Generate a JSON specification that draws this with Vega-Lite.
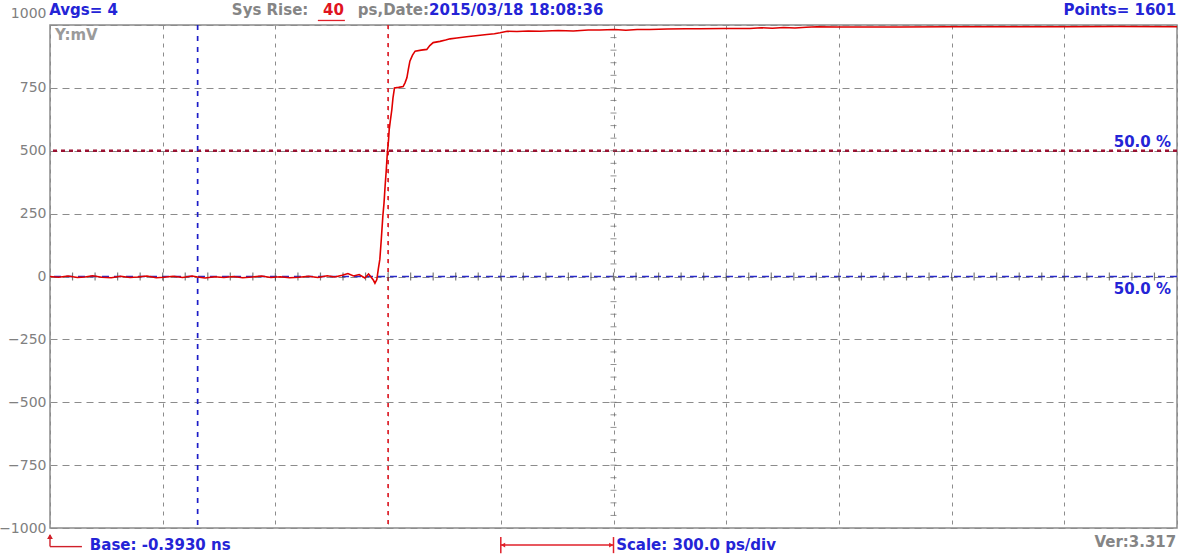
{
  "$schema": "https://vega.github.io/schema/vega-lite/v6.json",
  "width": 1127,
  "height": 503,
  "autosize": {"type": "none"},
  "padding": {"left": 50, "top": 25, "right": 3, "bottom": 30},
  "background": "white",
  "config": {
    "view": {"stroke": "#8a8a8a", "strokeWidth": 1.5},
    "text": {"font": "DejaVu Sans", "fontSize": 15, "baseline": "middle"}
  },
  "datasets": {
    "one": [{"k": 1}],
    "wave": [
      {"t": -393, "v": 0}, {"t": -370, "v": -3}, {"t": -345, "v": 2}, {"t": -320, "v": -4},
      {"t": -300, "v": -2}, {"t": -280, "v": 3}, {"t": -255, "v": -3}, {"t": -230, "v": -5},
      {"t": -205, "v": 1}, {"t": -180, "v": -4}, {"t": -160, "v": -2}, {"t": -135, "v": 2},
      {"t": -110, "v": -5}, {"t": -90, "v": -3}, {"t": -65, "v": 1}, {"t": -40, "v": -4},
      {"t": -15, "v": 2}, {"t": 0, "v": -2}, {"t": 20, "v": -6}, {"t": 45, "v": -1},
      {"t": 70, "v": -4}, {"t": 95, "v": 0}, {"t": 120, "v": -5}, {"t": 145, "v": -2},
      {"t": 170, "v": 2}, {"t": 195, "v": -4}, {"t": 220, "v": -1}, {"t": 245, "v": -5},
      {"t": 270, "v": -3}, {"t": 295, "v": 1}, {"t": 320, "v": -4}, {"t": 345, "v": 3},
      {"t": 365, "v": -2}, {"t": 385, "v": 5}, {"t": 400, "v": 12}, {"t": 415, "v": 2},
      {"t": 430, "v": 8}, {"t": 445, "v": -6}, {"t": 455, "v": 10}, {"t": 462, "v": -3},
      {"t": 468, "v": -15}, {"t": 472, "v": -27}, {"t": 477, "v": -12}, {"t": 481, "v": 30},
      {"t": 485, "v": 68}, {"t": 489, "v": 150}, {"t": 493, "v": 240}, {"t": 496, "v": 290},
      {"t": 499, "v": 359}, {"t": 502, "v": 420}, {"t": 505, "v": 492}, {"t": 508, "v": 540},
      {"t": 510, "v": 585}, {"t": 513, "v": 620}, {"t": 517, "v": 664}, {"t": 520, "v": 710},
      {"t": 524, "v": 750}, {"t": 535, "v": 752}, {"t": 547, "v": 755}, {"t": 552, "v": 770},
      {"t": 557, "v": 790}, {"t": 561, "v": 825}, {"t": 565, "v": 856}, {"t": 572, "v": 880},
      {"t": 579, "v": 896}, {"t": 595, "v": 900}, {"t": 610, "v": 903}, {"t": 618, "v": 918},
      {"t": 627, "v": 930}, {"t": 645, "v": 935}, {"t": 660, "v": 940}, {"t": 672, "v": 945},
      {"t": 690, "v": 948}, {"t": 716, "v": 953}, {"t": 740, "v": 957}, {"t": 770, "v": 962},
      {"t": 790, "v": 965}, {"t": 805, "v": 969}, {"t": 824, "v": 975}, {"t": 850, "v": 974},
      {"t": 880, "v": 976}, {"t": 911, "v": 975}, {"t": 960, "v": 978}, {"t": 1000, "v": 976},
      {"t": 1040, "v": 980}, {"t": 1071, "v": 980}, {"t": 1110, "v": 982}, {"t": 1140, "v": 979},
      {"t": 1170, "v": 982}, {"t": 1204, "v": 982}, {"t": 1250, "v": 984}, {"t": 1300, "v": 985},
      {"t": 1337, "v": 985}, {"t": 1400, "v": 986}, {"t": 1470, "v": 986}, {"t": 1500, "v": 989},
      {"t": 1530, "v": 987}, {"t": 1560, "v": 990}, {"t": 1590, "v": 988}, {"t": 1620, "v": 991},
      {"t": 1649, "v": 993}, {"t": 1700, "v": 992}, {"t": 1800, "v": 992}, {"t": 1870, "v": 992},
      {"t": 2000, "v": 993}, {"t": 2136, "v": 993}, {"t": 2300, "v": 993}, {"t": 2450, "v": 994},
      {"t": 2607, "v": 993}
    ],
    "minorx": [
      {"t": -333}, {"t": -273}, {"t": -213}, {"t": -153}, {"t": -93}, {"t": -33}, {"t": 27},
      {"t": 87}, {"t": 147}, {"t": 207}, {"t": 267}, {"t": 327}, {"t": 387}, {"t": 447},
      {"t": 507}, {"t": 567}, {"t": 627}, {"t": 687}, {"t": 747}, {"t": 807}, {"t": 867},
      {"t": 927}, {"t": 987}, {"t": 1047}, {"t": 1107}, {"t": 1167}, {"t": 1227}, {"t": 1287},
      {"t": 1347}, {"t": 1407}, {"t": 1467}, {"t": 1527}, {"t": 1587}, {"t": 1647}, {"t": 1707},
      {"t": 1767}, {"t": 1827}, {"t": 1887}, {"t": 1947}, {"t": 2007}, {"t": 2067}, {"t": 2127},
      {"t": 2187}, {"t": 2247}, {"t": 2307}, {"t": 2367}, {"t": 2427}, {"t": 2487}, {"t": 2547}
    ],
    "minory": [
      {"v": -950}, {"v": -900}, {"v": -850}, {"v": -800}, {"v": -750}, {"v": -700}, {"v": -650},
      {"v": -600}, {"v": -550}, {"v": -500}, {"v": -450}, {"v": -400}, {"v": -350}, {"v": -300},
      {"v": -250}, {"v": -200}, {"v": -150}, {"v": -100}, {"v": -50}, {"v": 0}, {"v": 50},
      {"v": 100}, {"v": 150}, {"v": 200}, {"v": 250}, {"v": 300}, {"v": 350}, {"v": 400},
      {"v": 450}, {"v": 500}, {"v": 550}, {"v": 600}, {"v": 650}, {"v": 700}, {"v": 750},
      {"v": 800}, {"v": 850}, {"v": 900}, {"v": 950}
    ],
    "blueLeft": [
      {"t": -395, "v": 1058, "label": "Avgs= 4"},
      {"t": 616, "v": 1058, "label": "2015/03/18 18:08:36"},
      {"t": -287, "v": -1068, "label": "Base: -0.3930 ns"},
      {"t": 1114, "v": -1068, "label": "Scale: 300.0 ps/div"}
    ],
    "blueRight": [
      {"t": 2605, "v": 1058, "label": "Points= 1601"},
      {"t": 2591, "v": 536, "label": "50.0 %"},
      {"t": 2591, "v": -50, "label": "50.0 %"}
    ],
    "grayLeft": [
      {"t": 91, "v": 1058, "label": "Sys Rise:"}
    ],
    "grayRight": [
      {"t": 616, "v": 1058, "label": "ps,Date:"},
      {"t": 2605, "v": -1054, "label": "Ver:3.317"}
    ],
    "redText": [
      {"t": 334, "v": 1058, "label": "40"}
    ],
    "unitText": [
      {"t": -380, "v": 960, "label": "Y:mV"}
    ]
  },
  "layer": [
    {
      "data": {"name": "wave"},
      "mark": {"type": "line", "color": "#e00000", "strokeWidth": 0, "opacity": 0},
      "encoding": {
        "x": {
          "field": "t", "type": "quantitative",
          "scale": {"domain": [-393, 2607], "nice": false, "zero": false},
          "axis": {
            "values": [-393, -93, 207, 507, 807, 1107, 1407, 1707, 2007, 2307, 2607],
            "labels": false, "ticks": false, "domain": false, "title": null,
            "grid": true, "gridColor": "#8c8c8c", "gridDash": [4, 5], "gridWidth": 1
          }
        },
        "y": {
          "field": "v", "type": "quantitative",
          "scale": {"domain": [-1000, 1000], "nice": false},
          "axis": {
            "values": [-1000, -750, -500, -250, 0, 250, 500, 750, 1000],
            "format": "d",
            "title": null, "ticks": false, "domain": false,
            "labelFont": "DejaVu Sans", "labelFontSize": 14, "labelColor": "#808080",
            "labelPadding": 4,
            "labelOffset": {"condition": {"test": "datum.value === 1000", "value": -12}, "value": 0},
            "grid": true, "gridColor": "#8c8c8c", "gridDash": [7, 5], "gridWidth": 1
          }
        }
      }
    },
    {
      "data": {"name": "one"},
      "mark": {"type": "rule", "color": "#9a1030", "strokeWidth": 2.6, "strokeDash": [4, 4]},
      "encoding": {"y": {"datum": 500}}
    },
    {
      "data": {"name": "one"},
      "mark": {"type": "rule", "color": "#2a2ac8", "strokeWidth": 1.3, "strokeDash": [7, 5]},
      "encoding": {"y": {"datum": 0}}
    },
    {
      "data": {"name": "one"},
      "mark": {"type": "rule", "color": "#1c1cc8", "strokeWidth": 1.7, "strokeDash": [5, 6]},
      "encoding": {"x": {"datum": 0}}
    },
    {
      "data": {"name": "one"},
      "mark": {"type": "rule", "color": "#e0202a", "strokeWidth": 1.7, "strokeDash": [4, 5]},
      "encoding": {"x": {"datum": 507}}
    },
    {
      "data": {"name": "minorx"},
      "mark": {"type": "tick", "orient": "vertical", "size": 8, "thickness": 1.2, "color": "#444444"},
      "encoding": {"x": {"field": "t", "type": "quantitative"}, "y": {"datum": 0}}
    },
    {
      "data": {"name": "minory"},
      "mark": {"type": "tick", "orient": "horizontal", "size": 6, "thickness": 1, "color": "#666666"},
      "encoding": {"y": {"field": "v", "type": "quantitative"}, "x": {"datum": 1107}}
    },
    {
      "data": {"name": "wave"},
      "mark": {"type": "line", "color": "#e00000", "strokeWidth": 1.6},
      "encoding": {
        "x": {"field": "t", "type": "quantitative"},
        "y": {"field": "v", "type": "quantitative"}
      }
    },
    {
      "data": {"name": "one"},
      "mark": {"type": "rule", "color": "#e0202a", "strokeWidth": 1.5},
      "encoding": {"x": {"datum": 807}, "x2": {"datum": 1107}, "y": {"datum": -1068}}
    },
    {
      "data": {"name": "one"},
      "mark": {"type": "rule", "color": "#e0202a", "strokeWidth": 1.5},
      "encoding": {"x": {"datum": 807}, "y": {"datum": -1036}, "y2": {"datum": -1100}}
    },
    {
      "data": {"name": "one"},
      "mark": {"type": "rule", "color": "#e0202a", "strokeWidth": 1.5},
      "encoding": {"x": {"datum": 1107}, "y": {"datum": -1036}, "y2": {"datum": -1100}}
    },
    {
      "data": {"name": "one"},
      "mark": {"type": "point", "shape": "triangle-left", "filled": true, "size": 24, "color": "#e0202a", "opacity": 1},
      "encoding": {"x": {"datum": 813}, "y": {"datum": -1068}}
    },
    {
      "data": {"name": "one"},
      "mark": {"type": "point", "shape": "triangle-right", "filled": true, "size": 24, "color": "#e0202a", "opacity": 1},
      "encoding": {"x": {"datum": 1101}, "y": {"datum": -1068}}
    },
    {
      "data": {"name": "one"},
      "mark": {"type": "rule", "color": "#d0202a", "strokeWidth": 1.4},
      "encoding": {"x": {"datum": -393}, "y": {"datum": -1028}, "y2": {"datum": -1074}}
    },
    {
      "data": {"name": "one"},
      "mark": {"type": "rule", "color": "#d0202a", "strokeWidth": 1.4},
      "encoding": {"x": {"datum": -393}, "x2": {"datum": -308}, "y": {"datum": -1074}}
    },
    {
      "data": {"name": "one"},
      "mark": {"type": "point", "shape": "triangle-up", "filled": true, "size": 34, "color": "#d0202a", "opacity": 1},
      "encoding": {"x": {"datum": -393}, "y": {"datum": -1034}}
    },
    {
      "data": {"name": "one"},
      "mark": {"type": "rule", "color": "#e0202a", "strokeWidth": 1.3},
      "encoding": {"x": {"datum": 320}, "x2": {"datum": 392}, "y": {"datum": 1018}}
    },
    {
      "data": {"name": "blueLeft"},
      "mark": {"type": "text", "align": "left", "fontWeight": "bold", "color": "#2424d6"},
      "encoding": {
        "x": {"field": "t", "type": "quantitative"},
        "y": {"field": "v", "type": "quantitative"},
        "text": {"field": "label"}
      }
    },
    {
      "data": {"name": "blueRight"},
      "mark": {"type": "text", "align": "right", "fontWeight": "bold", "color": "#2424d6"},
      "encoding": {
        "x": {"field": "t", "type": "quantitative"},
        "y": {"field": "v", "type": "quantitative"},
        "text": {"field": "label"}
      }
    },
    {
      "data": {"name": "grayLeft"},
      "mark": {"type": "text", "align": "left", "fontWeight": "bold", "color": "#858585"},
      "encoding": {
        "x": {"field": "t", "type": "quantitative"},
        "y": {"field": "v", "type": "quantitative"},
        "text": {"field": "label"}
      }
    },
    {
      "data": {"name": "grayRight"},
      "mark": {"type": "text", "align": "right", "fontWeight": "bold", "color": "#858585"},
      "encoding": {
        "x": {"field": "t", "type": "quantitative"},
        "y": {"field": "v", "type": "quantitative"},
        "text": {"field": "label"}
      }
    },
    {
      "data": {"name": "redText"},
      "mark": {"type": "text", "align": "left", "fontWeight": "bold", "color": "#e0141e"},
      "encoding": {
        "x": {"field": "t", "type": "quantitative"},
        "y": {"field": "v", "type": "quantitative"},
        "text": {"field": "label"}
      }
    },
    {
      "data": {"name": "unitText"},
      "mark": {"type": "text", "align": "left", "fontWeight": "bold", "color": "#9a9a9a"},
      "encoding": {
        "x": {"field": "t", "type": "quantitative"},
        "y": {"field": "v", "type": "quantitative"},
        "text": {"field": "label"}
      }
    }
  ]
}
